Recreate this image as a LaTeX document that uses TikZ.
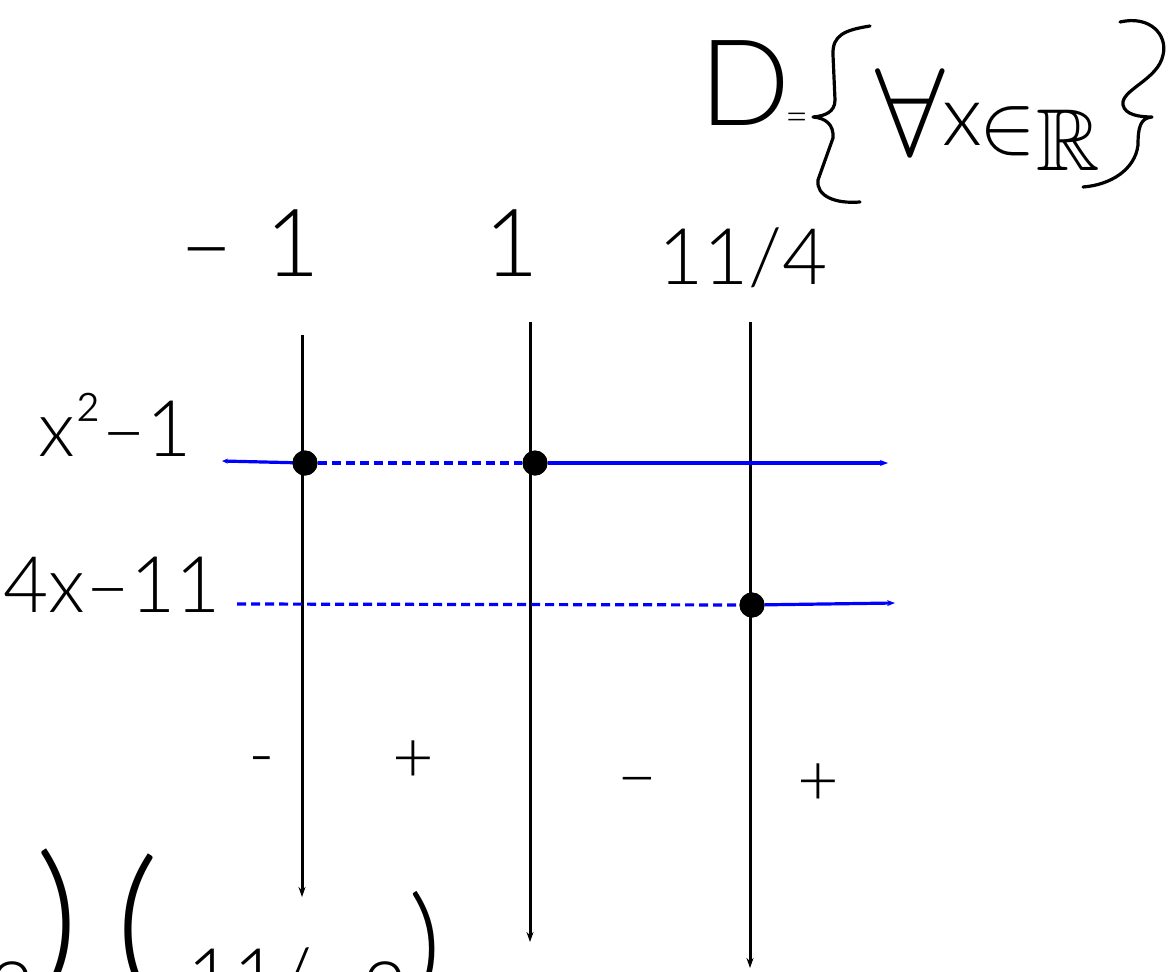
\documentclass[tikz,border=0pt]{standalone}
\usepackage{amssymb}
\usepackage{fontspec}
\setmainfont{Lato Light}
\usetikzlibrary{arrows.meta}
\begin{document}
\begin{tikzpicture}[x=1pt,y=-1pt,
  axisline/.style={line width=3pt, -{Stealth[length=10pt,width=7pt]}},
  bluesolid/.style={blue, line width=3.2pt},
  bluedash/.style={blue, line width=3.2pt, dash pattern=on 9pt off 5pt},
  bluetip/.style={-{Stealth[length=8pt,width=6pt]}},
  root/.style={circle, fill=black, inner sep=0pt, minimum size=25pt},
  lbl/.style={inner sep=0pt, font=\fontsize{78}{78}\selectfont},
  tall/.style={inner sep=0pt, font=\fontsize{94}{94}\selectfont},
  small/.style={inner sep=0pt, font=\fontsize{72}{72}\selectfont},
  brace/.style={line width=3.2pt, line cap=round, line join=round},
  big/.style={inner sep=0pt, font=\fontsize{170}{170}\selectfont}]
\useasboundingbox (0,0) rectangle (1174,971);
\clip (0,0) rectangle (1174,971);
\fill[white] (0,0) rectangle (1174,971);
% vertical lines
\coordinate (v1top) at (302,335); \coordinate (v1bot) at (302,897);
\coordinate (v2top) at (530,322); \coordinate (v2bot) at (530,942);
\coordinate (v3top) at (750,322); \coordinate (v3bot) at (750,968);
\draw[axisline] (v1top) -- (v1bot);
\draw[axisline] (v2top) -- (v2bot);
\draw[axisline] (v3top) -- (v3bot);
% row coordinates
\coordinate (r1s) at (222,461);
\coordinate (r1e) at (888,463);
\coordinate (r2s) at (237,604);
\coordinate (r2e) at (895,603);
\node[root] (p1) at (305,463) {};
\node[root] (p2) at (535,463) {};
\node[root] (p3) at (752,605) {};
% blue rows
\draw[bluesolid, {Stealth[length=6pt,width=5pt]}-] (r1s) -- (p1.center);
\draw[bluedash] (p1) -- (p2);
\draw[bluesolid, bluetip] (p2) -- (r1e);
\draw[bluedash] (r2s) -- (p3);
\draw[bluesolid, bluetip] (p3) -- (r2e);
\node[root] at (p1) {};
\node[root] at (p2) {};
\node[root] at (p3) {};
% top labels
\node[tall] (lm1) at (250,243) {–\,\,1};
\node[tall] (l1) at (512,243) {1};
\node[lbl] (l114) at (743,258) {11/4};
% row labels
\node[lbl] (f1) at (115,425) {x²–1};
\node[lbl] (f2) at (112,585) {4x–11};
% signs
\node[small] (s1) at (262,768) {-};
\node[small] (s2) at (413,762) {+};
\node[small] (s3) at (637,788) {–};
\node[small] (s4) at (818,785) {+};
% domain
\node[inner sep=0pt, font=\fontsize{120}{120}\selectfont] (D) at (745,83) {D};
\node[inner sep=0pt, font=\fontsize{40}{40}\selectfont] (eq) at (797,122) {=};
\draw[brace] (870,26) .. controls (845,30) and (832,35) .. (833,55)
  -- (835,100) .. controls (835,112) and (825,116) .. (813,117)
  .. controls (825,118) and (834,124) .. (833,138)
  -- (818,180) .. controls (816,196) and (835,204) .. (860,202);
\node[inner sep=0pt] (fa) at (910,112) {\scalebox{12.5}{$\forall$}};
\node[inner sep=0pt, font=\fontsize{85}{85}\selectfont] (xx) at (962,124) {x};
\node[inner sep=0pt] (in) at (1008,131) {\scalebox{8.5}{$\in$}};
\node[inner sep=0pt] (RR) at (1068,140) {\scalebox{8.8}{$\mathbb{R}$}};
\draw[brace] (1120,22) .. controls (1150,15) and (1168,35) .. (1163,55)
  .. controls (1158,80) and (1120,90) .. (1123,105)
  .. controls (1125,115) and (1140,117) .. (1152,117)
  .. controls (1140,118) and (1138,128) .. (1138,145)
  .. controls (1135,170) and (1110,185) .. (1083,187);
% bottom partial text
\node[lbl] (b0) at (12,990) {2};
\node[big] (b1) at (57,925) {)};
\node[big] (b2) at (137,930) {(};
\node[lbl] (b3) at (250,978) {11/};
\node[lbl] (b4) at (385,990) {2};
\node[inner sep=0pt, font=\fontsize{130}{130}\selectfont] (b5) at (425,950) {)};
\end{tikzpicture}
\end{document}
